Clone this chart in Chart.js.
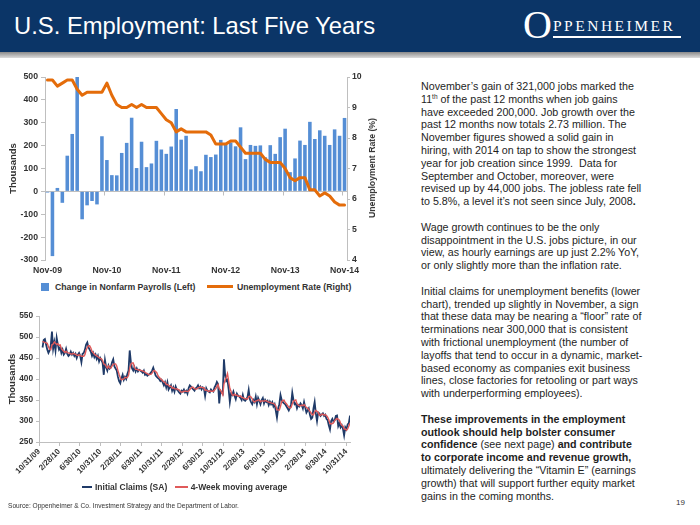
<!DOCTYPE html>
<html><head><meta charset="utf-8">
<script src="https://cdn.jsdelivr.net/npm/chart.js@4.4.1/dist/chart.umd.min.js"></script>
<style>
html,body{margin:0;padding:0;background:#fff;}
#page{position:relative;width:700px;height:525px;overflow:hidden;font-family:'Liberation Sans',Arial,sans-serif;background:#fff;}
#hdr{position:absolute;left:0;top:0;width:700px;height:52px;background:#0b3567;}
#hdrline{position:absolute;left:0;top:52px;width:700px;height:6px;background:linear-gradient(#8a8a8a,#dcdcdc);}
#title{position:absolute;left:14px;top:12px;color:#fff;font-size:23.8px;white-space:nowrap;}
#logo{position:absolute;left:0;top:0;color:#fff;font-family:'Liberation Serif','Times New Roman',serif;white-space:nowrap;}
#logo .o{position:absolute;left:523px;top:5px;font-size:40px;line-height:1;}
#logo .r{position:absolute;left:553px;top:18px;font-size:15.5px;line-height:1;letter-spacing:2.5px;}
#logo .u{position:absolute;left:553px;top:36px;width:128px;height:1.5px;background:#fff;}
canvas{position:absolute;}
#c1{left:0;top:60px;}
#c2{left:0;top:300px;}
.rtitle{position:absolute;font-weight:bold;font-size:8.7px;color:#333;white-space:nowrap;transform:translate(-50%,-50%) rotate(-90deg);}
.legend{position:absolute;font-weight:bold;color:#333;white-space:nowrap;}
.legend span{display:inline-block;vertical-align:middle;}
#text{position:absolute;left:421px;top:80px;font-size:10.7px;line-height:12.8px;color:#1e1e1e;white-space:nowrap;}
#text p{margin:0 0 12.8px 0;}
#text sup{font-size:6.5px;line-height:0;vertical-align:4px;}
#source{position:absolute;left:8px;top:502px;font-size:6.6px;color:#333;white-space:nowrap;}
#pnum{position:absolute;left:676px;top:498px;font-size:8px;color:#333;}
</style></head>
<body><div id="page">
<div id="hdr"></div><div id="hdrline"></div>
<div id="title">U.S. Employment: Last Five Years</div>
<div id="logo"><span class="o">O</span><span class="r">PPENHEIMER</span><div class="u"></div></div>

<canvas id="c1" width="384" height="220"></canvas>
<div class="rtitle" style="left:372px;top:168px;">Unemployment Rate (%)</div>
<div class="legend" style="left:41px;top:281px;font-size:8.7px;">
  <span style="width:8px;height:8px;background:#558ED5;margin-right:6px;"></span><span id="lg1a"></span>
  <span style="width:26px;height:3px;background:#E46C0A;margin-left:9px;margin-right:4px;"></span><span id="lg1b"></span>
</div>

<canvas id="c2" width="360" height="185"></canvas>
<div class="legend" style="left:82px;top:481px;font-size:8.5px;">
  <span style="width:10px;height:2px;background:#1F3A68;margin-right:3px;"></span><span id="lg2a"></span>
  <span style="width:13px;height:2px;background:#E05A5A;margin-left:5px;margin-right:3px;"></span><span id="lg2b"></span>
</div>

<div id="text">
<p>November’s gain of 321,000 jobs marked the<br>11<sup>th</sup> of the past 12 months when job gains<br>have exceeded 200,000. Job growth over the<br>past 12 months now totals 2.73 million. The<br>November figures showed a solid gain in<br>hiring, with 2014 on tap to show the strongest<br>year for job creation since 1999.&nbsp; Data for<br>September and October, moreover, were<br>revised up by 44,000 jobs. The jobless rate fell<br>to 5.8%, a level it’s not seen since July, 2008<b>.</b></p>
<p>Wage growth continues to be the only<br>disappointment in the U.S. jobs picture, in our<br>view, as hourly earnings are up just 2.2% YoY,<br>or only slightly more than the inflation rate.</p>
<p>Initial claims for unemployment benefits (lower<br>chart), trended up slightly in November, a sign<br>that these data may be nearing a “floor” rate of<br>terminations near 300,000 that is consistent<br>with frictional unemployment (the number of<br>layoffs that tend to occur in a dynamic, market-<br>based economy as companies exit business<br>lines, close factories for retooling or part ways<br>with underperforming employees).</p>
<p><b>These improvements in the employment<br>outlook should help bolster consumer<br>confidence</b> (see next page) <b>and contribute<br>to corporate income and revenue growth,</b><br>ultimately delivering the “Vitamin E” (earnings<br>growth) that will support further equity market<br>gains in the coming months.</p>
</div>
<div id="source">Source: Oppenheimer &amp; Co. Investment Strategy and the Department of Labor.</div>
<div id="pnum">19</div>
</div>
<script>
// ---------- Top chart data (monthly, Nov-09 .. Nov-14) ----------
const monthNames = ['Jan','Feb','Mar','Apr','May','Jun','Jul','Aug','Sep','Oct','Nov','Dec'];
const months = [];
for (let y = 2009, m = 10; months.length < 61; ) { months.push(monthNames[m] + '-' + String(y).slice(2)); m++; if (m === 12) { m = 0; y++; } }
const payrollLabel = 'Change in Nonfarm Payrolls (Left)';
const rateLabel = 'Unemployment Rate (Right)';
const payrolls = [-5,-283,15,-50,156,251,500,-122,-61,-42,-57,241,
  137,71,70,168,212,322,102,217,106,122,221,183,
  164,196,360,226,243,96,110,88,160,150,161,225,
  203,214,197,280,141,203,199,201,149,202,164,237,
  274,84,144,222,203,304,229,267,243,203,271,243,321];
const unemployment = [9.9,9.9,9.7,9.8,9.9,9.9,9.6,9.4,9.5,9.5,9.5,9.5,
  9.8,9.4,9.1,9.0,9.0,9.1,9.0,9.1,9.0,9.0,9.0,8.8,
  8.6,8.5,8.2,8.3,8.2,8.2,8.2,8.2,8.2,8.1,7.8,7.8,
  7.8,7.9,7.9,7.7,7.5,7.5,7.5,7.5,7.3,7.2,7.2,7.2,
  7.0,6.7,6.6,6.7,6.7,6.3,6.3,6.1,6.2,6.1,5.9,5.8,5.8];
const leftTicks = [-300,500,100];   // min, max, step
const rightTicks = [4,10,1];

// ---------- Bottom chart data (weekly from 11/21/09) ----------
const claimsLabel = 'Initial Claims (SA)';
const maLabel = '4-Week moving average';
const claimsStart = [2009, 10, 21]; // 21 Nov 2009
const axisStart = [2009, 9, 31];    // 31 Oct 2009
const claims = [475,493,495,482,470,462,
 468,480,513,472,488, 468,498,482,470, 475,462,470,458, 462,472,460,455, 458,465,458,462,455, 460,450,458,462,
 455,440,460,462,470, 482,487,475,470, 465,455,462,452, 458,448,455,442,450, 445,438,410,445, 428,420,432,425,
 428,440,447,430,425, 420,405,395,390, 402,410,398,405, 400,412,420,468,440, 425,420,428,418, 425,418,422,420,
 418,415,420,410,412, 408,410,412,415, 420,427,418,408, 405,402,400,395,398, 392,385,392,380, 392,375,380,385,372,
 380,370,382,375, 372,368,365,372, 370,375,368,372,365, 378,385,382,378, 375,372,378,380, 385,378,382,375,380,
 378,360,378,372, 370,368,375,372, 370,380,385,393,388, 342,372,368,365, 447,410,395,398, 375,345,365,362,370,
 360,352,365,360, 358,355,350,362, 350,348,352,357,374, 352,345,340,350, 345,358,340,355, 348,340,350,355,342,
 350,345,348,338, 346,340,345,335,340, 325,308,330,340, 362,350,345,342, 340,335,330,325,332, 340,367,350,340,
 342,330,338,335, 342,338,330,345, 332,320,325,330,315, 305,308,330,345, 318,300,320,318,312, 315,318,312,315,
 305,302,290,280, 300,305,298,302,312, 313,288,295,285, 290,282,266,285, 280,292,295,313];
const movingAvg = [490,488,487,486,485,477,
 471,470,481,483,488, 485,482,484,480, 481,472,469,466, 463,466,463,462, 461,460,459,461,460, 459,457,456,458,
 456,454,454,454,458, 469,475,479,479, 474,466,463,459, 457,455,453,451,449, 448,444,436,435, 430,426,431,426,
 426,431,435,436,436, 431,420,411,403, 398,399,400,404, 403,404,409,425,435, 438,438,428,423, 423,422,421,421,
 420,419,418,416,414, 413,410,411,411, 414,419,420,418, 415,408,404,401,399, 396,393,392,387, 387,385,382,383,378,
 379,377,376,377, 375,374,370,369, 369,371,371,371,370, 371,375,378,381, 380,377,376,376, 379,380,381,380,379,
 379,373,374,372, 370,372,371,371, 371,374,377,382,387, 377,374,368,362, 388,398,404,413, 395,378,371,362,361,
 364,361,362,359, 359,360,356,356, 354,353,353,352,358, 359,357,353,347, 345,348,348,350, 350,346,348,348,347,
 349,348,346,345, 344,343,342,342,340, 336,327,326,326, 335,346,349,350, 344,341,337,333,331, 332,341,347,349,
 350,341,338,336, 336,338,336,339, 336,332,331,327,323, 319,315,315,322, 325,323,321,314,313, 316,316,314,315,
 313,309,303,294, 293,294,296,301,304, 306,304,302,295, 290,288,281,281, 278,281,288,295];
const claimTickLabels = ['10/31/09','2/28/10','6/30/10','10/31/10','2/28/11','6/30/11','10/31/11','2/29/12',
 '6/30/12','10/31/12','2/28/13','6/30/13','10/31/13','2/28/14','6/30/14','10/31/14'];

// ---------- helpers ----------
const DAY = 86400000;
const base = Date.UTC(axisStart[0], axisStart[1], axisStart[2]);
const startDay = (Date.UTC(claimsStart[0], claimsStart[1], claimsStart[2]) - base) / DAY;
const weekDay = i => startDay + 7 * i;
const parseMDY = s => { const [m,d,y] = s.split('/').map(Number); return (Date.UTC(2000 + y, m - 1, d) - base) / DAY; };
const tickDays = claimTickLabels.map(parseMDY);
const lastDay = weekDay(claims.length - 1);

Chart.defaults.font.family = "'Liberation Sans', Arial, sans-serif";
Chart.defaults.color = '#333';
const AX = '#BFBFBF';

document.getElementById('lg1a').textContent = payrollLabel;
document.getElementById('lg1b').textContent = rateLabel;
document.getElementById('lg2a').textContent = claimsLabel;
document.getElementById('lg2b').textContent = maLabel;

const novTicks = {
  id: 'novTicks',
  beforeDatasetsDraw(chart) {
    const x = chart.scales.x, y = chart.scales.y, ctx = chart.ctx;
    const y0 = Math.round(y.getPixelForValue(0)) + 0.5;
    const half = (x.getPixelForValue(1) - x.getPixelForValue(0)) / 2;
    ctx.save(); ctx.strokeStyle = AX; ctx.lineWidth = 1;
    for (let i = 0; i < months.length; i += 12) {
      const px = Math.round(x.getPixelForValue(i) - half) + 0.5;
      ctx.beginPath(); ctx.moveTo(px, y0); ctx.lineTo(px, y0 + 4); ctx.stroke();
    }
    ctx.restore();
  }
};

new Chart(document.getElementById('c1'), {
  type: 'bar',
  data: {
    labels: months,
    datasets: [
      { type: 'line', label: rateLabel, data: unemployment, yAxisID: 'y1', borderColor: '#E46C0A',
        borderWidth: 3, pointRadius: 0, tension: 0, borderJoinStyle: 'round', borderCapStyle: 'round', order: 0 },
      { type: 'bar', label: payrollLabel, data: payrolls, yAxisID: 'y', backgroundColor: '#558ED5',
        barPercentage: 0.72, categoryPercentage: 1, order: 1 }
    ]
  },
  options: {
    responsive: false, animation: false, devicePixelRatio: 1,
    layout: { padding: { top: 17, left: 0, right: 0, bottom: 0 } },
    plugins: { legend: { display: false }, tooltip: { enabled: false } },
    scales: {
      x: {
        offset: true,
        grid: { display: false, drawTicks: false },
        border: { display: false },
        ticks: { autoSkip: false, maxRotation: 0, minRotation: 0, padding: 5,
          font: { size: 8.7, weight: 'bold' }, color: '#333',
          callback: (v, i) => (i % 12 === 0 ? months[i] : '') },
        afterFit: s => { s.height = 20; }
      },
      y: {
        position: 'left', min: leftTicks[0], max: leftTicks[1],
        ticks: { stepSize: leftTicks[2], padding: 3, font: { size: 8.7, weight: 'bold' }, color: '#333' },
        grid: { color: c => (c.tick && c.tick.value === 0 ? AX : 'rgba(0,0,0,0)'), tickColor: AX, tickLength: 4 },
        border: { color: AX },
        title: { display: true, text: 'Thousands', font: { size: 9.5, weight: 'bold' }, color: '#333', padding: { top: 8, bottom: 0 } },
        afterFit: s => { s.width = 45; }
      },
      y1: {
        position: 'right', min: rightTicks[0], max: rightTicks[1],
        ticks: { stepSize: rightTicks[2], padding: 2, font: { size: 8.7, weight: 'bold' }, color: '#333' },
        grid: { drawOnChartArea: false, color: AX, tickLength: 3 },
        border: { color: AX },
        afterFit: s => { s.width = 37; }
      }
    }
  },
  plugins: [novTicks]
});

new Chart(document.getElementById('c2'), {
  type: 'line',
  data: {
    datasets: [
      { label: maLabel, data: movingAvg.map((v, i) => ({ x: weekDay(i), y: v })), borderColor: '#E05A5A',
        borderWidth: 1.4, pointRadius: 0, tension: 0, order: 0 },
      { label: claimsLabel, data: claims.map((v, i) => ({ x: weekDay(i), y: v })), borderColor: '#1F3A68',
        borderWidth: 1.8, pointRadius: 0, tension: 0, order: 1 }
    ]
  },
  options: {
    responsive: false, animation: false, devicePixelRatio: 1,
    layout: { padding: { top: 16, left: 0, right: 10, bottom: 0 } },
    plugins: { legend: { display: false }, tooltip: { enabled: false } },
    scales: {
      x: {
        type: 'linear', min: 0, max: lastDay,
        afterBuildTicks: s => { s.ticks = tickDays.map(v => ({ value: v })); },
        ticks: { autoSkip: false, minRotation: 45, maxRotation: 45, padding: 1,
          font: { size: 8, weight: 'bold' }, color: '#333',
          callback: v => { const k = tickDays.indexOf(v); return k >= 0 ? claimTickLabels[k] : ''; } },
        grid: { drawOnChartArea: false, color: AX, tickLength: 4 },
        border: { color: AX },
        afterFit: s => { s.height = 43; }
      },
      y: {
        min: 250, max: 550,
        ticks: { stepSize: 50, padding: 3, font: { size: 8.3, weight: 'bold' }, color: '#333' },
        grid: { drawOnChartArea: false, color: AX, tickLength: 3 },
        border: { color: AX },
        title: { display: true, text: 'Thousands', font: { size: 9.5, weight: 'bold' }, color: '#333', padding: { top: 7, bottom: 0 } },
        afterFit: s => { s.width = 39; }
      }
    }
  }
});
</script>
</body></html>
